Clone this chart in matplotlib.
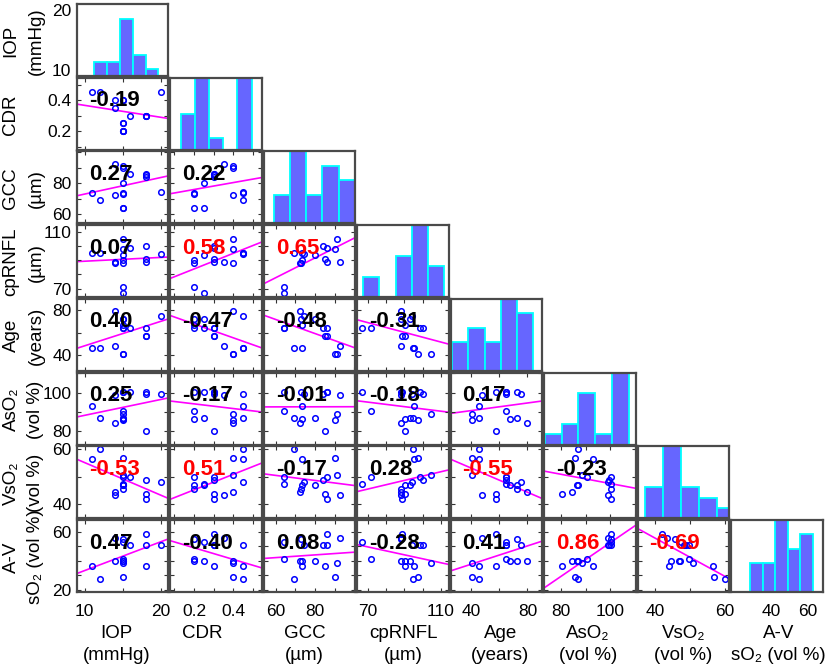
import numpy as np
import matplotlib.pyplot as plt

plt.rcParams['font.family'] = ['Liberation Sans', 'DejaVu Sans']

# one value per eye (16)
iop = [18, 14, 15, 15, 15, 12, 11, 15, 15, 18, 16, 15, 15, 14, 18, 20]
cdr = [0.30, 0.40, 0.20, 0.25, 0.40, 0.45, 0.45, 0.40, 0.20, 0.30, 0.30, 0.25, 0.20, 0.35, 0.30, 0.45]
gcc = [85.0, 72.3, 73.6, 79.8, 89.9, 69.4, 73.6, 91.3, 64.2, 84.0, 86.1, 64.2, 73.0, 92.5, 86.1, 74.3]
rnfl = [90.4, 88.0, 90.2, 93.3, 97.7, 94.7, 95.3, 104.7, 71.3, 100.0, 98.8, 66.6, 88.0, 88.3, 88.7, 94.0]
age = [57.4, 79.6, 67.3, 72.5, 40.4, 45.7, 45.7, 40.4, 64.5, 64.5, 64.5, 64.5, 72.5, 47.5, 57.4, 75.3]
aso2 = [80.3, 84.5, 86.4, 87.1, 85.6, 87.1, 92.9, 88.7, 90.6, 99.3, 100.5, 100.5, 100.5, 98.9, 100.5, 99.0]
vso2 = [43.9, 44.5, 46.9, 47.1, 56.7, 60.0, 56.4, 50.7, 49.8, 48.7, 49.8, 47.5, 45.7, 43.3, 42.1, 48.1]
av = [36.4, 40.0, 39.5, 40.0, 28.9, 27.1, 36.5, 38.0, 40.8, 50.6, 50.7, 53.0, 54.8, 55.6, 58.4, 50.8]

data = [iop, cdr, gcc, rnfl, age, aso2, vso2, av]

name1 = ['IOP', 'CDR', 'GCC', 'cpRNFL', 'Age', 'AsO₂', 'VsO₂', 'A-V']
name2 = ['(mmHg)', '', '(µm)', '(µm)', '(years)', '(vol %)', '(vol %)', 'sO₂ (vol %)']

# correlation coefficients shown in the lower triangle (row by row)
r_cdr = [-0.19]
r_gcc = [0.27, 0.22]
r_rnfl = [0.07, 0.58, 0.65]
r_age = [0.40, -0.47, -0.48, -0.31]
r_aso2 = [0.25, -0.17, -0.01, -0.18, 0.17]
r_vso2 = [-0.53, 0.51, -0.17, 0.28, -0.55, -0.23]
r_av = [0.47, -0.40, 0.08, -0.28, 0.41, 0.86, -0.69]
r_rows = [[], r_cdr, r_gcc, r_rnfl, r_age, r_aso2, r_vso2, r_av]

# histogram counts on the diagonal and the range the bars cover
h_iop = [2, 2, 8, 3, 1]
h_cdr = [3, 6, 1, 0, 6]
h_gcc = [2, 5, 2, 4, 3]
h_rnfl = [2, 0, 4, 7, 3]
h_age = [2, 3, 2, 5, 4]
h_aso2 = [1, 2, 5, 1, 7]
h_vso2 = [3, 7, 3, 2, 1]
h_av = [2, 2, 5, 3, 4]
hists = [h_iop, h_cdr, h_gcc, h_rnfl, h_age, h_aso2, h_vso2, h_av]
h_range = [(11.24, 19.68), (0.132, 0.493), (59.3, 100.1), (67.1, 112.1),
           (26.7, 83.8), (73.5, 107.5), (37.2, 62.6), (28.7, 62.8)]
h_top = [10.08, 6, 5, 7, 5, 7, 7, 5]

lims = [(9, 21), (0.08, 0.545), (54, 100.5), (64, 114.5),
        (25.5, 90.5), (73.2, 110.3), (35, 61.1), (18.3, 68.1)]
ticks = [[10, 15, 20], [0.1, 0.2, 0.3, 0.4, 0.5], [60, 70, 80, 90, 100],
         [70, 80, 90, 100, 110], [40, 60, 80], [80, 90, 100, 110],
         [40, 50, 60], [20, 30, 40, 50, 60]]
xlabs = [['10', '', '20'], ['', '0.2', '', '0.4', ''], ['60', '', '80', '', ''],
         ['70', '', '', '', '110'], ['40', '', '80'], ['80', '', '100', ''],
         ['40', '', '60'], ['', '', '40', '', '60']]
ylabs = [['10', '', '20'], ['', '0.2', '', '0.4', ''], ['60', '', '80', '', ''],
         ['70', '', '', '', '110'], ['40', '', '80'], ['80', '', '100', ''],
         ['40', '', '60'], ['20', '', '', '', '60']]
xoff = [-6, -14, -5, 0, 4, -2, 0, 2]

W, H = 829, 668
fig = plt.figure(figsize=(W / 100, H / 100), dpi=100)
n = 8
tick_fs = 12.5
lab_fs = 13.5

for i in range(n):
    for j in range(i + 1):
        left = 77 + j * 93.43
        top = 4 + i * 73.71
        ax = fig.add_axes([left / W, 1 - (top + 72) / H, 91.5 / W, 72 / H])
        for s in ax.spines.values():
            s.set_color('#4a4a4a')
            s.set_linewidth(1.6)
        ax.set_xlim(lims[j])
        if i == j:
            edges = np.linspace(h_range[i][0], h_range[i][1], len(hists[i]) + 1)
            ax.bar(edges[:-1], hists[i], width=np.diff(edges), align='edge',
                   color='#6666ff', edgecolor='#00ffff', linewidth=1.3)
            ax.set_ylim(0, h_top[i])
            ax.set_yticks([])
            if i == n - 1:
                ax.set_xticks(ticks[j])
                ax.set_xticklabels(xlabs[j])
                ax.tick_params(axis='x', length=0, pad=8.5, labelsize=tick_fs)
            else:
                ax.set_xticks([])
            if i == 0:
                ty = ax.twinx()
                ty.set_ylim(lims[0])
                ty.yaxis.set_ticks_position('left')
                ty.set_yticks(ticks[0])
                ty.set_yticklabels(ylabs[0])
                ty.tick_params(axis='y', length=0, pad=4, labelsize=tick_fs)
                for s in ty.spines.values():
                    s.set_visible(False)
            continue

        x = np.array(data[j])
        y = np.array(data[i])
        ax.plot(x, y, 'o', mfc='none', mec='#0000ff', ms=4.0, mew=1.1, zorder=2)
        k, b = np.polyfit(x, y, 1)
        xx = np.array(lims[j])
        ax.plot(xx, k * xx + b, color='#ff00ff', lw=1.2, zorder=1)
        ax.set_ylim(lims[i])

        r = r_rows[i][j]
        ax.text(0.13, 0.68, '%.2f' % r, transform=ax.transAxes, ha='left', va='center',
                fontsize=16, fontweight='bold', zorder=5,
                color='#ff0000' if abs(r) >= 0.5 else 'black')

        ax.set_xticks(ticks[j])
        ax.set_yticks(ticks[i])
        ax.set_xticklabels(xlabs[j])
        ax.set_yticklabels(ylabs[i])
        ax.tick_params(direction='in', length=3, width=0.8, color='#333333',
                       top=True, right=True, labelsize=tick_fs,
                       labelbottom=(i == n - 1), labelleft=(j == 0))
        ax.tick_params(axis='x', pad=8.5)
        ax.tick_params(axis='y', pad=4)

# variable names on the left and at the bottom
for k in range(n):
    yc = 1 - (4 + k * 73.71 + 37) / H
    fig.text(11 / W, yc, name1[k], rotation=90, ha='center', va='center', fontsize=lab_fs)
    if name2[k]:
        fig.text(36 / W, yc, name2[k], rotation=90, ha='center', va='center', fontsize=lab_fs)

    xc = (77 + k * 93.43 + 45.75 + xoff[k]) / W
    fig.text(xc, 1 - 634 / H, name1[k], ha='center', va='center', fontsize=lab_fs)
    if name2[k]:
        fig.text(xc, 1 - 656 / H, name2[k], ha='center', va='center', fontsize=lab_fs)

fig.savefig('out.png', dpi=100)
